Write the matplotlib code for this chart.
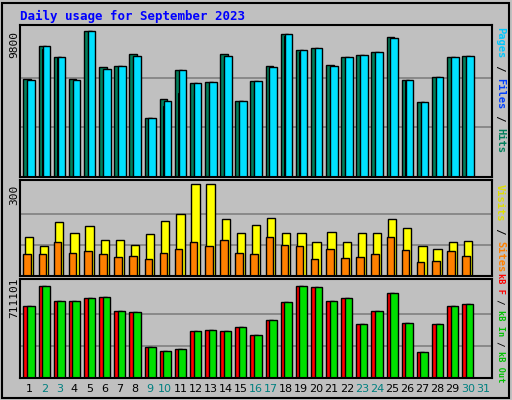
import matplotlib
matplotlib.use("Agg")
import matplotlib.pyplot as plt
import numpy as np

days = list(range(1, 31))
labels = [str(d) for d in range(1, 32)]
weekend = {2, 3, 9, 10, 16, 17, 23, 24, 30, 31}
hits = [6420, 8600, 7880, 6420, 9580, 7220, 7290, 8080, 3910, 5100, 7020, 6160, 6230, 8080, 4970, 6290, 7290, 9400, 8340, 8470, 7350, 7880, 8010, 8210, 9200, 6360, 4900, 6560, 7880, 7950]
files = [6350, 8600, 7880, 6350, 9580, 7100, 7290, 7950, 3910, 5000, 7020, 6160, 6230, 7950, 4970, 6290, 7220, 9400, 8340, 8470, 7290, 7880, 8010, 8210, 9120, 6360, 4900, 6560, 7880, 7950]
pages = [5500, 8400, 7880, 6250, 9580, 7000, 7200, 7800, 3910, 4700, 5500, 5400, 5300, 7700, 4970, 6200, 7100, 9300, 8200, 8400, 7200, 7800, 7900, 8100, 9000, 6300, 4900, 6500, 7800, 7900]
visits = [124, 95, 173, 137, 160, 117, 117, 101, 134, 176, 199, 297, 297, 183, 137, 163, 186, 140, 140, 111, 143, 111, 137, 140, 183, 153, 98, 88, 111, 114]
sites = [72, 72, 108, 75, 82, 72, 62, 65, 55, 75, 88, 108, 98, 117, 75, 72, 124, 101, 95, 55, 88, 59, 62, 72, 127, 85, 46, 49, 82, 65]
kbin = [529000, 682000, 566000, 573000, 595000, 602000, 493000, 486000, 232000, 203000, 218000, 348000, 355000, 348000, 377000, 319000, 428000, 559000, 682000, 675000, 566000, 595000, 399000, 493000, 631000, 406000, 196000, 399000, 529000, 551000]
kbout = kbin
tmax = [9800, 300, 711101]

BG = "#c0c0c0"
fig = plt.figure(figsize=(5.12, 4.0), dpi=100, facecolor=BG)
W, H = 512, 400
def ax_at(x0, y0, x1, y1):
    a = fig.add_axes([x0/W, 1-y1/H, (x1-x0)/W, (y1-y0)/H])
    a.set_facecolor(BG)
    for s in a.spines.values():
        s.set_color("black"); s.set_linewidth(1.5)
    a.set_xticks([]); a.set_yticks([])
    a.set_xlim(0.4, 31.6)
    return a

fig.add_artist(plt.Rectangle((2/W, 2/H), 1-5/W, 1-5/H, transform=fig.transFigure, fill=False, ec="black", lw=1.5))
fig.text(20/W, 1-16/H, "Daily usage for September 2023", color="#0000ff", fontsize=9, fontweight="bold", family="DejaVu Sans Mono", va="center")

x = np.array(days)
a1 = ax_at(20, 25, 492, 177)
a1.set_ylim(0, tmax[0]*1.02)
for g in (tmax[0]/3, 2*tmax[0]/3):
    a1.axhline(g, color="#808080", lw=1.2, zorder=0)
a1.bar(x-0.12, hits, width=0.5, color="#00805c", ec="black", lw=1)
a1.bar(x+0.0, pages, width=0.25, color="#0040ff", ec="black", lw=0.8)
a1.bar(x+0.14, files, width=0.5, color="#00e0ff", ec="black", lw=1)

a2 = ax_at(20, 180, 492, 276)
a2.set_ylim(0, tmax[1]*1.03)
for g in (tmax[1]/3, 2*tmax[1]/3):
    a2.axhline(g, color="#808080", lw=1.2, zorder=0)
a2.bar(x, visits, width=0.55, color="#ffff00", ec="black", lw=1)
a2.bar(x-0.12, sites, width=0.5, color="#ff8000", ec="black", lw=1)

a3 = ax_at(20, 279, 492, 378)
a3.set_ylim(0, tmax[2]*1.03)
for g in (tmax[2]/3, 2*tmax[2]/3):
    a3.axhline(g, color="#808080", lw=1.2, zorder=0)
a3.bar(x-0.12, kbout, width=0.5, color="#ff0000", ec="black", lw=1)
a3.bar(x+0.12, kbin, width=0.5, color="#00e000", ec="black", lw=1)

for i, l in enumerate(labels):
    fig.text((20 + (i+1-0.4)/31.2*472)/W, 1-389/H, l, ha="center", va="center", fontsize=8,
             color="#008080" if (i+1) in weekend else "black", family="DejaVu Sans")

for yv, txt in ((45, "9800"), (195, "300"), (298, "711101")):
    fig.text(14/W, 1-yv/H, txt, rotation=90, ha="center", va="center", fontsize=8, family="DejaVu Sans Mono")

def rtext(ycenter, parts, fs):
    total = sum(len(p[0]) for p in parts)
    cw = 0.602*fs*100/72
    y = ycenter - total*cw/2
    for t, c in parts:
        fig.text(500/W, 1-(y + len(t)*cw/2)/H, t, rotation=270, ha="center", va="center",
                 fontsize=fs, color=c, family="DejaVu Sans Mono", fontweight="bold")
        y += len(t)*cw
rtext(90, [("Pages", "#00c8ff"), (" / ", "black"), ("Files", "#0040ff"), (" / ", "black"), ("Hits", "#00805c")], 7.5)
rtext(228, [("Visits", "#e0e000"), (" / ", "black"), ("Sites", "#ff8000")], 7.5)
rtext(328, [("kB F", "#ff0000"), (" / ", "black"), ("kB In", "#00c000"), (" / ", "black"), ("kB Out", "#00c000")], 6.2)

fig.savefig("out.png", dpi=100, facecolor=BG)
